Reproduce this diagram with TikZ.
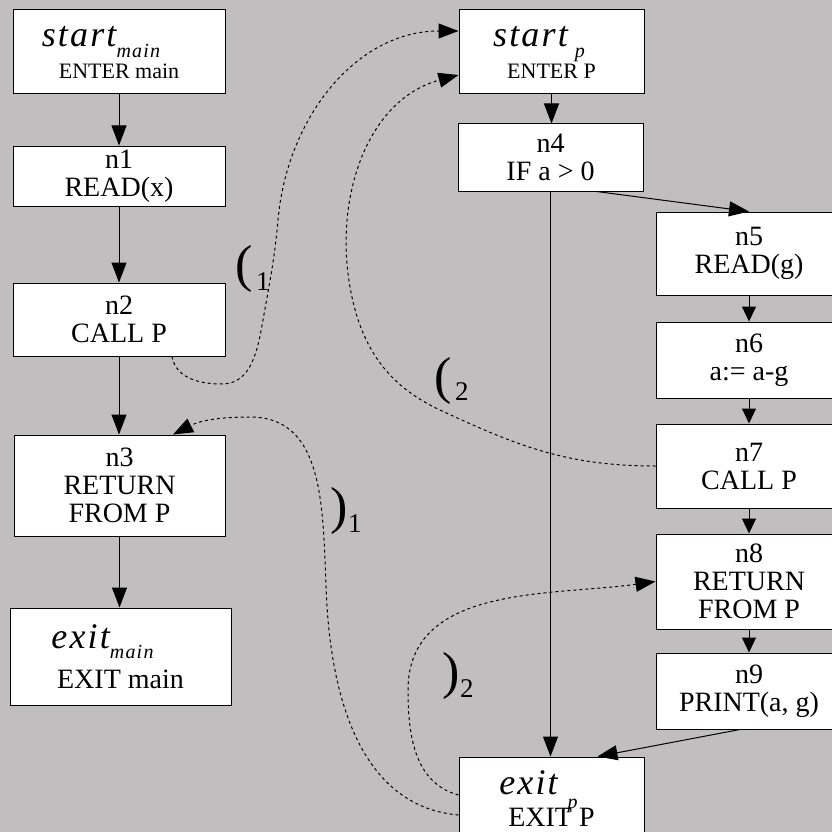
\documentclass[tikz,border=0pt]{standalone}
\usepackage{fontspec}
\setmainfont{Liberation Serif}
\newfontfamily\spacedfont[LetterSpace=6]{Liberation Serif}
\usetikzlibrary{arrows.meta}

\definecolor{bggray}{RGB}{193,190,192}
\newcommand\bigit[1]{{\spacedfont\itshape\fontsize{36}{36}\selectfont #1}}
\newcommand\subit[2]{\smash{\raisebox{-#1pt}{\spacedfont\itshape\fontsize{20}{20}\selectfont #2}}}
\newcommand\bigparen[1]{{\fontsize{52}{52}\selectfont #1}}

\tikzset{
  box/.style={draw, fill=white, line width=1pt, inner sep=0pt, align=center,
    font=\fontsize{28}{28}\selectfont},
  flow/.style={line width=1pt, -{Triangle[length=20pt,width=15pt]}},
  flowshort/.style={line width=1pt, -{Triangle[length=15pt,width=14pt]}},
  call/.style={line width=1pt, dash pattern=on 3pt off 3pt,
    -{Triangle[length=20pt,width=15pt]}},
  paren/.style={inner sep=0pt, anchor=base west, font=\fontsize{27}{28}\selectfont}
}

\begin{document}
\begin{tikzpicture}[x=1pt,y=1pt]
\useasboundingbox (0,0) rectangle (832,-832);
\clip (0,0) rectangle (832,-832);
\fill[bggray] (0,0) rectangle (832,-832);

% main
\node[box, minimum width=212pt, minimum height=84pt] (smain) at (119,-52)
  {\bigit{start}\subit{11}{main}\kern36pt\\[4pt]{\fontsize{22}{22}\selectfont ENTER main}};
\node[box, minimum width=212pt, minimum height=60pt] (n1) at (119,-176) {n1\\READ(x)};
\node[box, minimum width=212pt, minimum height=73pt] (n2) at (119,-319.5) {n2\\CALL P};
\node[box, minimum width=211pt, minimum height=101pt] (n3) at (119.5,-485.5) {n3\\RETURN\\FROM P};
\node[box, minimum width=221pt, minimum height=97pt] (emain) at (120.5,-656.5)
  {\bigit{exit}\subit{10}{main}\kern36pt\\[12pt]EXIT main};

% P
\node[box, minimum width=185pt, minimum height=84pt] (sp) at (551.5,-52)
  {\bigit{start}\kern7pt\subit{11}{p}\kern25pt\\[4pt]{\fontsize{22}{22}\selectfont ENTER P}};
\node[box, minimum width=185pt, minimum height=67pt] (n4) at (550.5,-157.5) {n4\\IF a > 0};
\node[box, minimum width=186pt, minimum height=83pt] (n5) at (749,-253.5) {n5\\READ(g)};
\node[box, minimum width=186pt, minimum height=76pt] (n6) at (749,-360) {n6\\a:= a-g};
\node[box, minimum width=186pt, minimum height=84pt] (n7) at (749,-466) {n7\\CALL P};
\node[box, minimum width=186pt, minimum height=95pt] (n8) at (749,-581.5) {n8\\RETURN\\FROM P};
\node[box, minimum width=186pt, minimum height=76pt] (n9) at (749,-691) {n9\\PRINT(a, g)};
\node[box, minimum width=185pt, minimum height=84pt] (ep) at (551.5,-799)
  {\bigit{exit}\kern10pt\subit{14}{p}\kern26pt\\[4pt]EXIT P};

% brackets
\node[paren] (open1) at (235.5,-281) {\bigparen{(}\kern3pt\raisebox{-9pt}{1}};
\node[paren] (close1) at (330.5,-523) {\bigparen{)}\raisebox{-9pt}{1}};
\node[paren] (open2) at (434.5,-393) {\bigparen{(}\kern3pt\raisebox{-7pt}{2}};
\node[paren] (close2) at (442.5,-688) {\bigparen{)}\raisebox{-9pt}{2}};

% flow edges
\draw[flow] (smain.south) -- (smain.south |- n1.north);
\draw[flow] (n1.south) -- (n1.south |- n2.north);
\draw[flow] (n2.south) -- (n2.south |- n3.north);
\draw[flow] (n3.south) -- (n3.south |- emain.north);
\draw[flow] (sp.south) -- (sp.south |- n4.north);
\draw[flow] ([xshift=46pt]n4.south) -- (n5.north);
\draw[flow] (n4.south) -- (n4.south |- ep.north);
\draw[flowshort] (n5) -- (n6);
\draw[flowshort] (n6) -- (n7);
\draw[flowshort] (n7) -- (n8);
\draw[flowshort] (n8) -- (n9);
\draw[flow] ([xshift=-9pt]n9.south) -- ([xshift=46pt]ep.north);

% call and return edges
\draw[call] ([xshift=53pt]n2.south) to[out=-80,in=180] (222,-384)
  to[out=0,in=-100] (263,-320) to[out=80,in=-95] (278,-220)
  to[out=85,in=180] ([yshift=21pt]sp.west);
\draw[call] (n7.west) to[out=180,in=-25] (440,-410)
  to[out=155,in=-80] (350,-287) to[out=100,in=195] ([yshift=-23pt]sp.west);
\draw[call] ([yshift=-16pt]ep.west) to[out=175,in=-85] (328,-620)
  to[out=95,in=0] (250,-417) to[out=180,in=27] ([xshift=53.5pt]n3.north);
\draw[call] ([yshift=4pt]ep.west) to[out=165,in=-90] (408,-690)
  to[out=90,in=188] (n8.west);
\end{tikzpicture}
\end{document}
